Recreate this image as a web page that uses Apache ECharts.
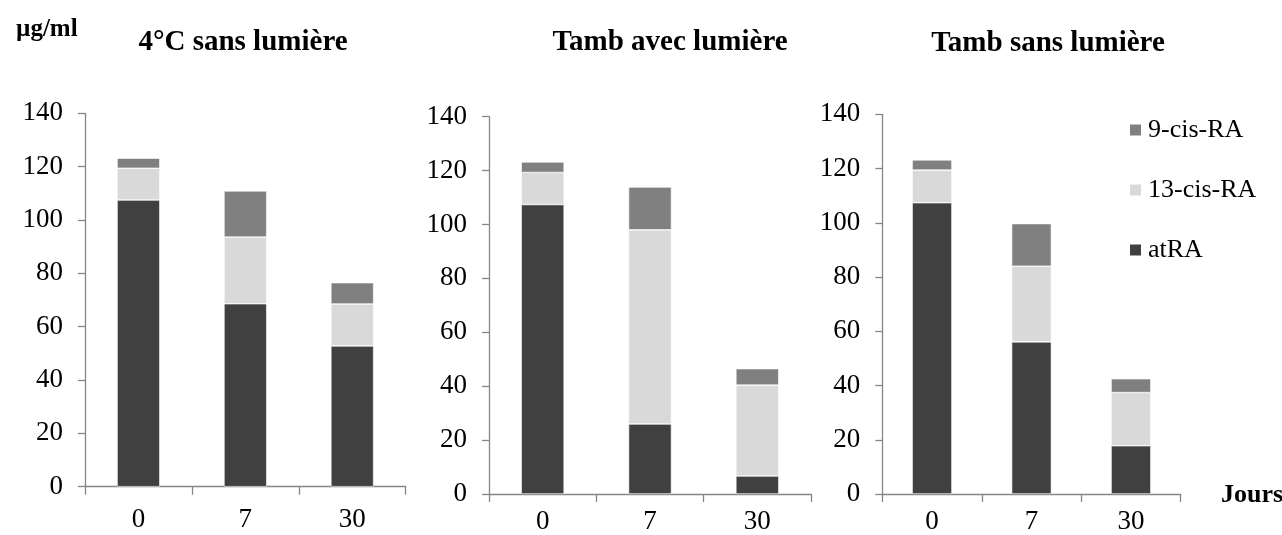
<!DOCTYPE html>
<html>
<head>
<meta charset="utf-8">
<script src="https://cdn.jsdelivr.net/npm/echarts@6/dist/echarts.min.js"></script>
<style>html,body{margin:0;padding:0;background:#fff;}#c{width:1282px;height:535px;}</style>
</head>
<body>
<div id="c"></div>
<script>
const days = ['0', '7', '30'];
const panelTitles = ['4°C sans lumière', 'Tamb avec lumière', 'Tamb sans lumière'];
const seriesNames = ['atRA', '13-cis-RA', '9-cis-RA'];
const legendOrder = ['9-cis-RA', '13-cis-RA', 'atRA'];
const yTicks = [0, 20, 40, 60, 80, 100, 120, 140];
// panel 1: 4°C sans lumière
const p1_atRA = [107.5, 68.6, 52.8];
const p1_13cis = [11.9, 25.0, 15.7];
const p1_9cis = [3.8, 17.3, 8.0];
// panel 2: Tamb avec lumière
const p2_atRA = [107.4, 26.0, 6.7];
const p2_13cis = [11.9, 72.0, 33.7];
const p2_9cis = [3.9, 15.9, 6.1];
// panel 3: Tamb sans lumière
const p3_atRA = [107.4, 56.1, 17.8];
const p3_13cis = [12.0, 27.9, 19.6];
const p3_9cis = [3.8, 15.7, 5.1];

const panelData = [
  [p1_atRA, p1_13cis, p1_9cis],
  [p2_atRA, p2_13cis, p2_9cis],
  [p3_atRA, p3_13cis, p3_9cis]
];
const colors = ['#404040', '#d9d9d9', '#808080'];
const FONT = '"Liberation Serif", "Times New Roman", serif';
const axisGray = '#868686';

const grids = [
  {left: 85, top: 113.3, width: 320.7, height: 373.4},
  {left: 489, top: 116.7, width: 322, height: 379},
  {left: 882.3, top: 114.3, width: 298.4, height: 381}
];
const xMargins = [20, 14, 14];

const chart = echarts.init(document.getElementById('c'), null, {renderer: 'canvas'});
const option = {
  backgroundColor: '#fff',
  animation: false,
  color: colors,
  textStyle: {fontFamily: FONT},
  title: [
    {text: 'µg/ml', left: 11, top: 12, textStyle: {fontFamily: FONT, fontWeight: 'bold', fontSize: 25, color: '#000'}},
    {text: panelTitles[0], left: 238, top: 23, textAlign: 'center', textStyle: {fontFamily: FONT, fontWeight: 'bold', fontSize: 29, color: '#000'}},
    {text: panelTitles[1], left: 665, top: 23, textAlign: 'center', textStyle: {fontFamily: FONT, fontWeight: 'bold', fontSize: 29, color: '#000'}},
    {text: panelTitles[2], left: 1043, top: 24, textAlign: 'center', textStyle: {fontFamily: FONT, fontWeight: 'bold', fontSize: 29, color: '#000'}},
    {text: 'Jours', left: 1216, top: 477, textStyle: {fontFamily: FONT, fontWeight: 'bold', fontSize: 26, color: '#000'}}
  ],
  legend: {
    data: legendOrder,
    orient: 'vertical',
    left: 1123,
    top: 112,
    itemWidth: 13,
    itemHeight: 13,
    itemGap: 34,
    icon: 'rect',
    textStyle: {fontFamily: FONT, fontSize: 26, color: '#000', padding: [0, 0, 0, 1]},
    selectedMode: false
  },
  grid: grids,
  xAxis: grids.map((g, i) => ({
    type: 'category',
    gridIndex: i,
    data: days,
    axisLine: {show: true, lineStyle: {color: axisGray, width: 1.3}},
    axisTick: {show: true, alignWithLabel: false, length: 8, lineStyle: {color: axisGray, width: 1.3}},
    axisLabel: {fontFamily: FONT, fontSize: 27, color: '#000', margin: xMargins[i]},
    splitLine: {show: false}
  })),
  yAxis: grids.map((g, i) => ({
    type: 'value',
    gridIndex: i,
    min: yTicks[0],
    max: yTicks[yTicks.length - 1],
    interval: 20,
    axisLine: {show: true, lineStyle: {color: axisGray, width: 1.3}},
    axisTick: {show: true, length: 7, lineStyle: {color: axisGray, width: 1.3}},
    axisLabel: {fontFamily: FONT, fontSize: 27, color: '#000', margin: 22},
    splitLine: {show: false}
  })),
  series: []
};
panelData.forEach((arrs, pi) => {
  arrs.forEach((vals, si) => {
    option.series.push({
      type: 'bar',
      name: seriesNames[si],
      xAxisIndex: pi,
      yAxisIndex: pi,
      stack: 'p' + pi,
      barWidth: '40%',
      data: vals,
      itemStyle: {color: colors[si], borderColor: '#ffffff', borderWidth: 0.6}
    });
  });
});
chart.setOption(option);
</script>
</body>
</html>
